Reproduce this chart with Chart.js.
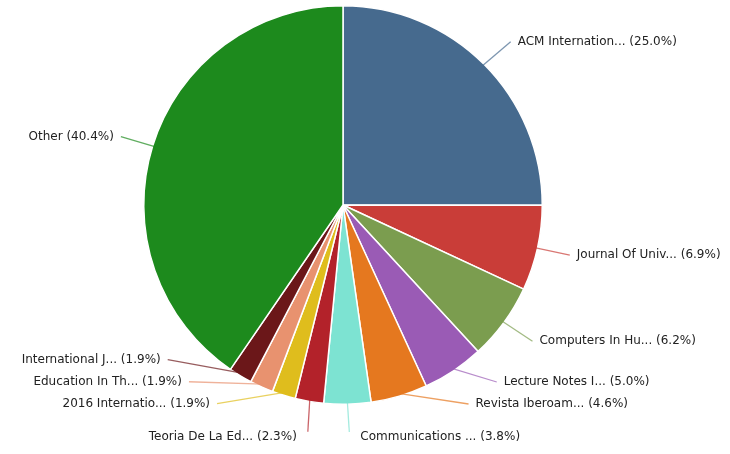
<!DOCTYPE html>
<html>
<head>
<meta charset="utf-8">
<script src="https://cdn.jsdelivr.net/npm/chart.js@4"></script>
<style>
  body { margin: 0; background: #fff; }
  canvas { display: block; }
</style>
</head>
<body>
<canvas id="pie" width="730" height="454"></canvas>
<script>
// venues and their share of publications (%)
const venues = [
  'ACM Internation...', 'Journal Of Univ...', 'Computers In Hu...', 'Lecture Notes I...',
  'Revista Iberoam...', 'Communications ...', 'Teoria De La Ed...', '2016 Internatio...',
  'Education In Th...', 'International J...', 'Other'
];
const shares = [25.0, 6.9, 6.2, 5.0, 4.6, 3.8, 2.3, 1.9, 1.9, 1.9, 40.4];
const colors = [
  '#466a8e', '#c93d38', '#7b9d4f', '#9a5bb5', '#e5781f', '#7de3d2',
  '#b3222a', '#dfbd1d', '#e8926f', '#6b1719', '#1d8a1d'
];

// labels with leader lines outside the pie
const outsideLabels = {
  id: 'outsideLabels',
  afterDatasetsDraw(chart) {
    const ctx = chart.ctx;
    const arcs = chart.getDatasetMeta(0).data;
    const items = arcs.map((arc, i) => {
      const a = (arc.startAngle + arc.endAngle) / 2;
      const R = arc.outerRadius;
      const bottom = Math.abs(Math.cos(a)) < 0.2 && Math.sin(a) > 0;
      return {
        i, a, cx: arc.x, cy: arc.y, R, bottom,
        ax: arc.x + Math.cos(a) * (R - 3),
        ay: arc.y + Math.sin(a) * (R - 3),
        side: Math.cos(a) >= 0 ? 1 : -1,
        y: arc.y + Math.sin(a) * R * (bottom ? 1.18 : 1.16)
      };
    });

    // push labels apart on each side, from the bottom up
    [1, -1].forEach(side => {
      const list = items.filter(it => it.side === side).sort((p, q) => q.y - p.y);
      let prev = null;
      list.forEach(it => {
        if (!prev) {
          it.y = Math.min(it.y, chart.height - 17);
        } else {
          const gap = prev.bottom ? 33 : 22;
          it.y = Math.min(it.y, prev.y - gap);
        }
        prev = it;
      });
    });

    ctx.save();
    ctx.font = '12px "DejaVu Sans", sans-serif';
    ctx.textBaseline = 'middle';
    items.forEach(it => {
      const text = venues[it.i] + ' (' + shares[it.i].toFixed(1) + '%)';
      let tx, lx, ly;
      if (it.bottom) {
        tx = it.ax + it.side * 13;
        lx = it.ax + it.side * 2;
        ly = it.y - 5;
      } else {
        const rr = it.R * 1.2;
        const dy = it.y - it.cy;
        tx = it.cx + it.side * Math.sqrt(Math.max(rr * rr - dy * dy, 0));
        lx = tx - it.side * 7;
        ly = it.y;
      }
      ctx.strokeStyle = colors[it.i];
      ctx.globalAlpha = 0.7;
      ctx.lineWidth = 1.3;
      ctx.beginPath();
      ctx.moveTo(it.ax, it.ay);
      ctx.lineTo(lx, ly);
      ctx.stroke();
      ctx.globalAlpha = 1;
      ctx.fillStyle = '#222';
      ctx.textAlign = it.side === 1 ? 'left' : 'right';
      ctx.fillText(text, tx, it.y);
    });
    ctx.restore();
  }
};

new Chart(document.getElementById('pie').getContext('2d'), {
  type: 'pie',
  data: {
    labels: venues,
    datasets: [{
      data: shares,
      backgroundColor: colors,
      borderColor: '#ffffff',
      borderWidth: 1.5
    }]
  },
  options: {
    responsive: false,
    animation: false,
    layout: { padding: { left: 143, right: 187, top: 5, bottom: 49 } },
    plugins: {
      legend: { display: false },
      tooltip: { enabled: false }
    }
  },
  plugins: [outsideLabels]
});
</script>
</body>
</html>
